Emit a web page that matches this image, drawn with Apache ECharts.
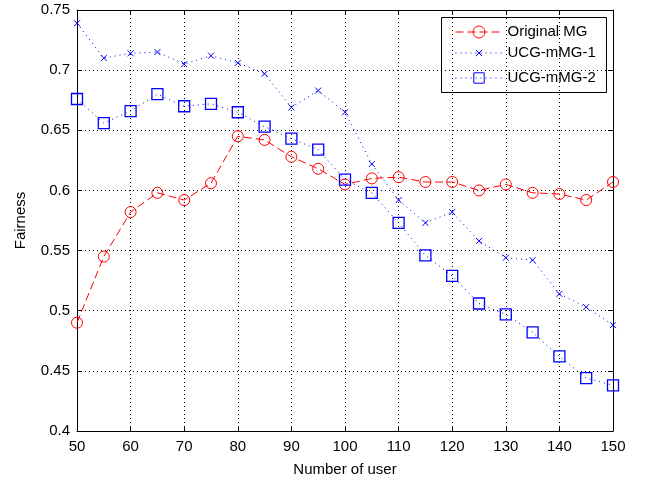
<!DOCTYPE html>
<html><head><meta charset="utf-8">
<script src="https://cdn.jsdelivr.net/npm/echarts@6/dist/echarts.min.js"></script>
<style>html,body{margin:0;padding:0;background:#fff}#c{width:646px;height:481px}</style>
</head><body><div id="c"></div>
<script>
var users = [50,55,60,65,70,75,80,85,90,95,100,105,110,115,120,125,130,135,140,145,150];
var originalMG = [0.490,0.545,0.582,0.598,0.592,0.606,0.645,0.642,0.628,0.618,0.605,0.610,0.611,0.607,0.607,0.600,0.605,0.598,0.597,0.592,0.607];
var ucg1 = [0.739,0.710,0.714,0.715,0.705,0.712,0.706,0.697,0.669,0.683,0.665,0.622,0.592,0.573,0.582,0.558,0.544,0.542,0.514,0.503,0.488];
var ucg2 = [0.676,0.656,0.666,0.680,0.670,0.672,0.665,0.653,0.643,0.634,0.609,0.598,0.573,0.546,0.529,0.506,0.497,0.482,0.462,0.444,0.438];
var seriesNames = ['Original MG','UCG-mMG-1','UCG-mMG-2'];
var yTicks = {min:0.4,max:0.75,interval:0.05};
var xTicks = {min:50,max:150,interval:10};

function pairs(v){return users.map(function(u,i){return [u,v[i]];});}
var font = 'Liberation Sans, Arial, sans-serif';
var FS = 15;
var chart = echarts.init(document.getElementById('c'));
var axisCommon = {
  axisLine:{show:true,onZero:false,lineStyle:{color:'#000',width:1}},
  axisTick:{show:true,inside:true,length:5,lineStyle:{color:'#000'}}
};
function leg(name, top, h){
  return {left:455, top:top, padding:0, itemWidth:47, itemHeight:h,
    lineStyle:{width:1}, itemStyle:{borderWidth:1},
    textStyle:{fontFamily:font,fontSize:FS,color:'#000',lineHeight:18},
    data:[name]};
}
chart.setOption({
  animation:false,
  backgroundColor:'#fff',
  grid:{left:77,right:33,top:10,bottom:50,show:false,containLabel:false,outerBoundsMode:'none'},
  legend:[leg(seriesNames[0],23,15),leg(seriesNames[1],44,8),leg(seriesNames[2],69,13)],
  graphic:[{type:'rect',left:441,top:17,shape:{width:165,height:75},
    style:{fill:'#fff',stroke:'#000',lineWidth:1},z:-1,zlevel:0}],
  xAxis:[
    Object.assign({type:'value',min:xTicks.min,max:xTicks.max,interval:xTicks.interval,position:'bottom',
      name:'Number of user',nameLocation:'middle',nameGap:31,
      nameTextStyle:{fontFamily:font,fontSize:FS,color:'#000'},
      axisLabel:{fontFamily:font,fontSize:FS,color:'#000',margin:8},
      splitLine:{show:true,lineStyle:{color:'#000',type:[1,3],width:1}}},axisCommon),
    Object.assign({type:'value',min:xTicks.min,max:xTicks.max,interval:xTicks.interval,position:'top',
      axisLabel:{show:false},splitLine:{show:false}},axisCommon)
  ],
  yAxis:[
    Object.assign({type:'value',min:yTicks.min,max:yTicks.max,interval:yTicks.interval,position:'left',
      name:'Fairness',nameLocation:'middle',nameGap:49,nameRotate:90,
      nameTextStyle:{fontFamily:font,fontSize:FS,color:'#000'},
      axisLabel:{fontFamily:font,fontSize:FS,color:'#000',margin:7,
        formatter:function(v){return String(parseFloat(v.toFixed(2)));}},
      splitLine:{show:true,lineStyle:{color:'#000',type:[1,3],width:1}}},axisCommon),
    Object.assign({type:'value',min:yTicks.min,max:yTicks.max,interval:yTicks.interval,position:'right',
      axisLabel:{show:false},splitLine:{show:false}},axisCommon)
  ],
  series:[
    {name:seriesNames[0],type:'line',data:pairs(originalMG),
     symbol:'circle',symbolSize:11,showAllSymbol:true,
     itemStyle:{color:'rgba(255,255,255,0)',borderColor:'#ff0000',borderWidth:1},
     lineStyle:{color:'#ff0000',width:1,type:[8,4]}},
    {name:seriesNames[1],type:'line',data:pairs(ucg1),
     symbol:'path://M0,0L10,10M10,0L0,10',symbolSize:6,showAllSymbol:true,
     itemStyle:{color:'rgba(0,0,255,0)',borderColor:'#0000ff',borderWidth:1},
     lineStyle:{color:'#0000ff',width:1,type:[1,4]}},
    {name:seriesNames[2],type:'line',data:pairs(ucg2),
     symbol:'rect',symbolSize:11,showAllSymbol:true,
     itemStyle:{color:'rgba(255,255,255,0)',borderColor:'#0000ff',borderWidth:1.3},
     lineStyle:{color:'#0000ff',width:1,type:[1,4]}}
  ]
});
</script></body></html>
